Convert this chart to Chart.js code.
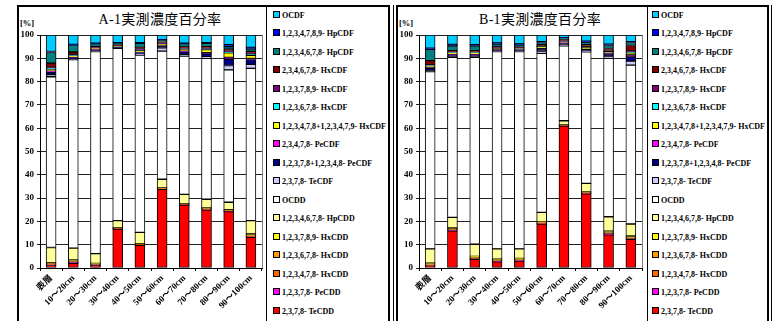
<!DOCTYPE html>
<html>
<head>
<meta charset="utf-8">
<script src="https://cdn.jsdelivr.net/npm/chart.js@4/dist/chart.umd.min.js"></script>
<style>
  html, body { margin: 0; padding: 0; background: #fff; }
  body { width: 772px; height: 321px; position: relative; overflow: hidden;
         font-family: "Liberation Serif", "Noto Sans CJK JP", serif; color: #000; }
  .line { position: absolute; background: #000; }
  canvas.plot { position: absolute; }
  .title { position: absolute; top: 8px; font-size: 14px; letter-spacing: 0.3px; white-space: nowrap;
           transform: translateX(-50%); }
  .unit { position: absolute; top: 18px; font-size: 8.5px; font-weight: bold; }
  .legend { position: absolute; top: 0; }
  .item { position: absolute; left: 0; white-space: nowrap; font-size: 8px; font-weight: bold; line-height: 10px; }
  .item i { display: inline-block; width: 5px; height: 5px; border: 1px solid #000; margin-right: 2px; vertical-align: 0px; }
</style>
</head>
<body>

<!-- panel frames -->
<div class="line" style="left:17px;top:5px;width:1.5px;height:330px"></div>
<div class="line" style="left:17px;top:5px;width:373px;height:1.5px"></div>
<div class="line" style="left:266px;top:5px;width:1px;height:330px"></div>
<div class="line" style="left:388px;top:5px;width:1.5px;height:330px"></div>
<div class="line" style="left:393px;top:5px;width:1px;height:330px"></div>
<div class="line" style="left:396px;top:5px;width:1.5px;height:330px"></div>
<div class="line" style="left:396px;top:5px;width:373px;height:1.5px"></div>
<div class="line" style="left:647px;top:5px;width:1px;height:330px"></div>
<div class="line" style="left:767px;top:5px;width:1.5px;height:330px"></div>
<div class="line" style="left:770.5px;top:5px;width:1px;height:330px"></div>

<div class="title" style="left:160px">A-1実測濃度百分率</div>
<div class="title" style="left:540px">B-1実測濃度百分率</div>
<div class="unit" style="left:20px">[%]</div>
<div class="unit" style="left:399px">[%]</div>

<canvas id="chartA" class="plot" width="249" height="316" style="left:17px;top:5px;width:249px;height:316px"></canvas>
<canvas id="chartB" class="plot" width="251" height="316" style="left:396px;top:5px;width:251px;height:316px"></canvas>

<div id="legendA" class="legend" style="left:273px"></div>
<div id="legendB" class="legend" style="left:652px"></div>

<script>
// Depth intervals of the soil core samples
const categories = ['表層', '10～20cm', '20～30cm', '30～40cm', '40～50cm',
                    '50～60cm', '60～70cm', '70～80cm', '80～90cm', '90～100cm'];

// Congener names, stacked from the bottom of each bar upward
const congeners = [
  '2,3,7,8- TeCDD', '1,2,3,7,8- PeCDD', '1,2,3,4,7,8- HxCDD', '1,2,3,6,7,8- HxCDD',
  '1,2,3,7,8,9- HxCDD', '1,2,3,4,6,7,8- HpCDD', 'OCDD', '2,3,7,8- TeCDF',
  '1,2,3,7,8+1,2,3,4,8- PeCDF', '2,3,4,7,8- PeCDF', '1,2,3,4,7,8+1,2,3,4,7,9- HxCDF',
  '1,2,3,6,7,8- HxCDF', '1,2,3,7,8,9- HxCDF', '2,3,4,6,7,8- HxCDF',
  '1,2,3,4,6,7,8- HpCDF', '1,2,3,4,7,8,9- HpCDF', 'OCDF'
];

const congenerColors = [
  '#FF0000', '#FF00FF', '#FF6600', '#FF9900', '#FFFF00', '#FFFF99', '#FFFFFF', '#CCCCFF',
  '#000080', '#FF00FF', '#FFFF00', '#00FFFF', '#800080', '#800000', '#008080', '#0000FF', '#00CCFF'
];

const yTicks = [0, 10, 20, 30, 40, 50, 60, 70, 80, 90, 100];

// Site A-1: percentage of measured concentration per congener
const a_TeCDD       = [1.0, 2.0, 1.0, 16.7, 9.7, 33.8, 27.0, 24.9, 24.2, 13.2];
const a_PeCDD       = [0.3, 0.4, 0.2, 0.1, 0.1, 0.1, 0.1, 0.1, 0.1, 0.2];
const a_HxCDD478    = [0.3, 0.3, 0.2, 0.1, 0.2, 0.1, 0.1, 0.2, 0.2, 0.3];
const a_HxCDD678    = [0.4, 0.5, 0.4, 0.3, 0.3, 0.3, 0.3, 0.4, 0.3, 0.6];
const a_HxCDD789    = [0.3, 0.3, 0.2, 0.1, 0.1, 0.1, 0.1, 0.2, 0.2, 0.3];
const a_HpCDD       = [6.5, 5.0, 4.2, 3.0, 4.9, 3.7, 4.0, 3.7, 3.2, 5.7];
const a_OCDD        = [73.3, 80.9, 86.7, 74.0, 76.1, 55.0, 59.4, 60.5, 56.8, 65.4];
const a_TeCDF       = [0.8, 0.3, 0.2, 0.1, 0.3, 1.4, 0.6, 0.6, 1.9, 1.7];
const a_PeCDF12378  = [1.2, 0.6, 0.5, 0.3, 0.8, 0.6, 1.2, 1.4, 2.9, 2.1];
const a_PeCDF23478  = [0.4, 0.2, 0.2, 0.1, 0.2, 0.3, 0.3, 0.4, 0.6, 0.4];
const a_HxCDF123478 = [0.9, 0.6, 0.5, 0.3, 0.6, 0.7, 0.9, 1.3, 1.9, 1.4];
const a_HxCDF123678 = [0.3, 0.1, 0.1, 0.1, 0.1, 0.1, 0.1, 0.2, 0.5, 0.4];
const a_HxCDF123789 = [0.4, 0.3, 0.1, 0.1, 0.8, 0.2, 0.2, 0.3, 0.3, 0.4];
const a_HxCDF234678 = [1.8, 1.2, 0.5, 0.3, 0.5, 0.6, 0.6, 0.8, 0.8, 0.9];
const a_HpCDF1234678 = [4.6, 3.1, 1.3, 1.0, 1.7, 0.8, 1.4, 1.4, 1.1, 1.1];
const a_HpCDF1234789 = [0.4, 0.2, 0.2, 0.1, 0.3, 0.2, 0.2, 0.3, 0.9, 0.6];
const a_OCDF        = [7.1, 4.0, 3.5, 3.3, 3.3, 2.0, 3.5, 3.3, 4.1, 5.3];

// Site B-1
const b_TeCDD       = [0.7, 16.0, 3.7, 2.7, 3.0, 18.9, 60.9, 31.8, 14.2, 12.3];
const b_PeCDD       = [0.3, 0.2, 0.2, 0.2, 0.2, 0.1, 0.1, 0.1, 0.2, 0.2];
const b_HxCDD478    = [0.3, 0.2, 0.2, 0.2, 0.2, 0.2, 0.1, 0.2, 0.3, 0.3];
const b_HxCDD678    = [0.5, 0.6, 0.6, 0.5, 0.5, 0.5, 0.2, 0.4, 0.8, 0.7];
const b_HxCDD789    = [0.3, 0.2, 0.3, 0.2, 0.2, 0.2, 0.1, 0.2, 0.3, 0.3];
const b_HpCDD       = [6.1, 4.5, 5.2, 4.4, 4.1, 4.0, 1.8, 3.6, 6.2, 5.1];
const b_OCDD        = [76.1, 68.7, 80.2, 84.7, 84.7, 68.2, 32.1, 56.5, 68.0, 68.2];
const b_TeCDF       = [0.4, 0.3, 0.3, 0.2, 0.2, 1.0, 0.7, 0.3, 0.9, 1.7];
const b_PeCDF12378  = [1.0, 0.7, 0.7, 0.5, 0.5, 0.8, 0.5, 0.7, 1.0, 1.8];
const b_PeCDF23478  = [0.3, 0.2, 0.2, 0.1, 0.1, 0.2, 0.2, 0.2, 0.3, 0.8];
const b_HxCDF123478 = [0.7, 0.8, 0.8, 0.6, 0.5, 0.9, 0.3, 0.7, 0.8, 1.0];
const b_HxCDF123678 = [0.2, 0.1, 0.1, 0.1, 0.1, 0.1, 0.1, 0.1, 0.2, 0.3];
const b_HxCDF123789 = [0.3, 0.2, 0.2, 0.1, 0.1, 0.2, 0.1, 0.2, 0.3, 0.4];
const b_HxCDF234678 = [1.8, 0.6, 0.6, 0.4, 0.3, 0.5, 0.7, 0.8, 0.7, 2.4];
const b_HpCDF1234678 = [4.8, 2.1, 2.0, 1.2, 1.1, 1.0, 0.9, 1.2, 1.3, 1.3];
const b_HpCDF1234789 = [0.5, 0.6, 0.6, 0.5, 0.4, 0.3, 0.1, 0.3, 0.6, 0.3];
const b_OCDF        = [5.7, 4.0, 4.1, 3.4, 3.8, 2.9, 1.1, 2.7, 3.9, 2.9];

const seriesA = [a_TeCDD, a_PeCDD, a_HxCDD478, a_HxCDD678, a_HxCDD789, a_HpCDD, a_OCDD,
  a_TeCDF, a_PeCDF12378, a_PeCDF23478, a_HxCDF123478, a_HxCDF123678, a_HxCDF123789,
  a_HxCDF234678, a_HpCDF1234678, a_HpCDF1234789, a_OCDF];
const seriesB = [b_TeCDD, b_PeCDD, b_HxCDD478, b_HxCDD678, b_HxCDD789, b_HpCDD, b_OCDD,
  b_TeCDF, b_PeCDF12378, b_PeCDF23478, b_HxCDF123478, b_HxCDF123678, b_HxCDF123789,
  b_HxCDF234678, b_HpCDF1234678, b_HpCDF1234789, b_OCDF];

const FONT = '"Liberation Serif", "Noto Sans CJK JP", serif';
Chart.defaults.color = '#000';
Chart.defaults.font.family = FONT;

// thin grey frame on the right edge of the plotting area
const plotFrame = {
  id: 'plotFrame',
  beforeDatasetsDraw(chart) {
    const { ctx, chartArea: a } = chart;
    ctx.save();
    ctx.strokeStyle = '#808080';
    ctx.lineWidth = 1;
    ctx.beginPath();
    ctx.moveTo(Math.round(a.right) + 0.5, a.top);
    ctx.lineTo(Math.round(a.right) + 0.5, a.bottom);
    ctx.stroke();
    ctx.restore();
  }
};

function buildChart(canvasId, series, rightPad) {
  const datasets = series.map((data, i) => ({
    label: congeners[i],
    data: data,
    backgroundColor: congenerColors[i],
    borderColor: '#000',
    borderWidth: 1,
    borderSkipped: false,
    barThickness: 10
  }));
  return new Chart(document.getElementById(canvasId), {
    type: 'bar',
    data: { labels: categories, datasets },
    plugins: [plotFrame],
    options: {
      responsive: false,
      animation: false,
      layout: { padding: { left: 0, top: 30, right: rightPad, bottom: 0 } },
      plugins: { legend: { display: false }, tooltip: { enabled: false } },
      scales: {
        x: {
          stacked: true,
          grid: { drawOnChartArea: false, color: '#000', tickLength: 3, offset: true },
          border: { color: '#000', width: 1 },
          ticks: { autoSkip: false, minRotation: 45, maxRotation: 45, padding: 2,
                   font: { size: 9, weight: 'bold', family: FONT } },
          afterFit(scale) { scale.height = 53; }
        },
        y: {
          stacked: true,
          min: 0, max: 100,
          afterBuildTicks(scale) { scale.ticks = yTicks.map(v => ({ value: v })); },
          grid: { color: '#222', lineWidth: 1, tickLength: 3 },
          border: { color: '#000', width: 1 },
          ticks: { padding: 3, font: { size: 9, weight: 'bold', family: FONT } },
          afterFit(scale) { scale.width = 23; }
        }
      }
    }
  });
}

buildChart('chartA', seriesA, 4);
buildChart('chartB', seriesB, 5);

// legend lists, top item is the top of the stack
function buildLegend(id) {
  const box = document.getElementById(id);
  for (let k = 0; k < congeners.length; k++) {
    const i = congeners.length - 1 - k;
    const div = document.createElement('div');
    div.className = 'item';
    div.style.top = (10.5 + k * 18.5) + 'px';
    const sw = document.createElement('i');
    sw.style.background = congenerColors[i];
    div.appendChild(sw);
    div.appendChild(document.createTextNode(congeners[i]));
    box.appendChild(div);
  }
}
buildLegend('legendA');
buildLegend('legendB');
</script>
</body>
</html>
